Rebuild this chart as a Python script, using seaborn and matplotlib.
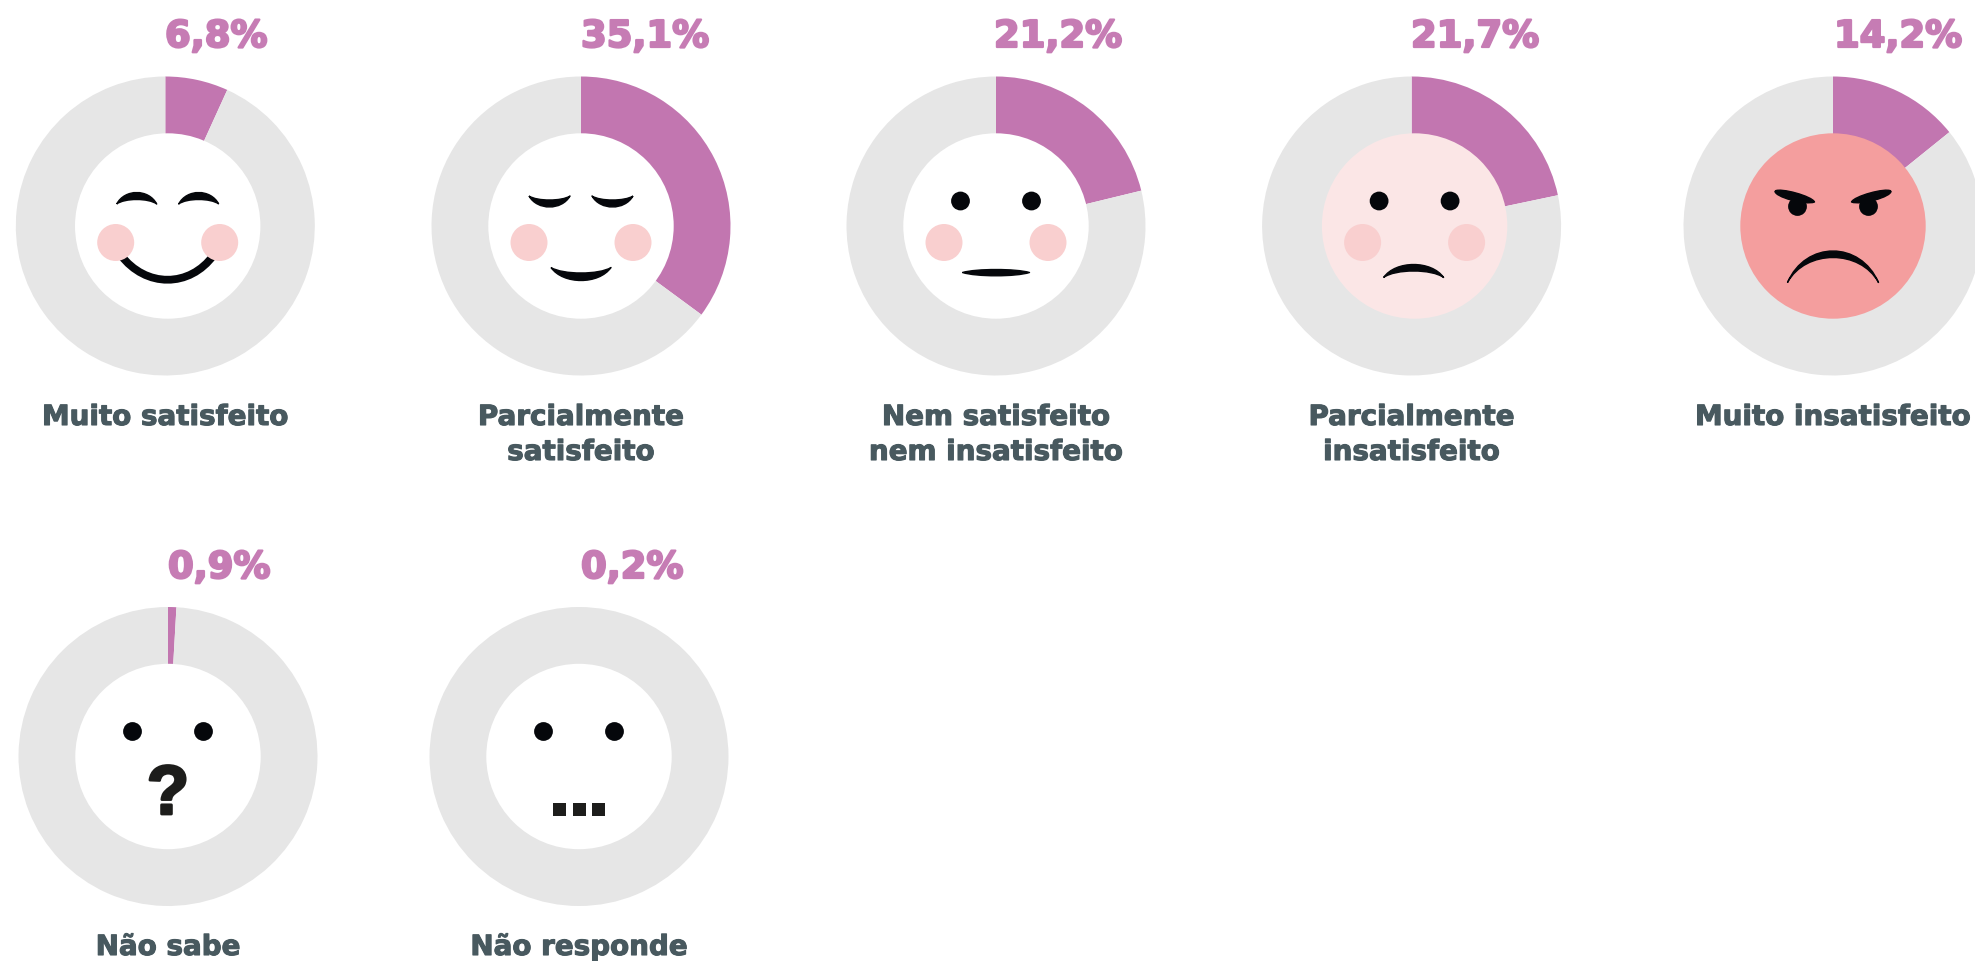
"""Satisfaction donuts with small faces in the middle."""
import matplotlib

matplotlib.use("Agg")
import matplotlib.patheffects as pe
import matplotlib.pyplot as plt
import seaborn as sns
from matplotlib.patches import Circle, PathPatch, Rectangle
from matplotlib.path import Path

W, H = 1975, 962
PINK, GREY, TEXT = "#C276B0", "#E6E6E6", "#48595F"
PCT_PINK = "#C67CB4"
CHEEK, INK, DARK = "#F9CFCF", "#05070B", "#1D1D1B"
FACE_LIGHT, FACE_ANGRY = "#FBE6E6", "#F49E9E"

# data
CATEGORIES = ["Muito satisfeito", "Parcialmente\nsatisfeito",
              "Nem satisfeito\nnem insatisfeito", "Parcialmente\ninsatisfeito",
              "Muito insatisfeito", "Não sabe", "Não responde"]
SHARES = [6.8, 35.1, 21.2, 21.7, 14.2, 0.9, 0.2]
PCT_LABELS = ["6,8%", "35,1%", "21,2%", "21,7%", "14,2%", "0,9%", "0,2%"]

# layout, in pixels from the top left of the picture
DONUT_X = [165.3, 581, 996, 1411.6, 1833, 168, 579]
DONUT_Y = [227, 227, 227, 227, 227, 757.5, 757.5]
FACE_DX = [2.4, 0, 0, 3, 0, 0, 0]
PCT_X = [165, 581, 994, 1411, 1834, 168, 581]
OUTER_R, INNER_R = 149.5, 92.7


def crescent(ax, cx, cy, left, right, mid_a, mid_b, color=INK, z=5, s=0.2):
    """Closed shape between two cubic curves sharing the tips (pixel offsets)."""
    def ctrls(mid, a, b):
        ex = (mid[0] - (a[0] + b[0]) / 2) / 0.75
        ey = (mid[1] - (a[1] + b[1]) / 2) / 0.75
        return ((a[0] + s * (b[0] - a[0]) + ex, a[1] + s * (b[1] - a[1]) + ey),
                (b[0] - s * (b[0] - a[0]) + ex, b[1] - s * (b[1] - a[1]) + ey))

    pts = [left, *ctrls(mid_a, left, right), right, *ctrls(mid_b, right, left), left]
    pts = [(cx + x, H - (cy + y)) for x, y in pts]
    codes = [Path.MOVETO] + [Path.CURVE4] * 6
    ax.add_patch(PathPatch(Path(pts, codes), fc=color, ec=color, lw=1.0,
                           joinstyle="round", zorder=z))


def dot(ax, cx, cy, dx, dy, r, color=INK, z=6):
    ax.add_patch(Circle((cx + dx, H - (cy + dy)), r, fc=color, ec="none", zorder=z))


def eyes(ax, cx, cy, dy=-25):
    dot(ax, cx, cy, -35.5, dy, 9.4)
    dot(ax, cx, cy, 35.5, dy, 9.4)


def cheeks(ax, cx, cy):
    dot(ax, cx, cy, -52, 16.5, 18.5, color=CHEEK, z=4)
    dot(ax, cx, cy, 52, 16.5, 18.5, color=CHEEK, z=4)


def face_very_happy(ax, cx, cy):
    cheeks(ax, cx, cy)
    for k in (-1, 1):
        crescent(ax, cx, cy, (k * 51, -22), (k * 11, -22), (k * 31, -33.5), (k * 31, -26.5))
    # mouth goes under the cheeks
    pts = [(cx + x, H - (cy + y)) for x, y in ((-47, 29), (-22, 62), (22, 62), (46, 29))]
    ax.add_patch(PathPatch(Path(pts, [Path.MOVETO, Path.CURVE4, Path.CURVE4, Path.CURVE4]),
                           fc="none", ec=INK, lw=5.6, zorder=3, capstyle="butt"))


def face_happy(ax, cx, cy):
    cheeks(ax, cx, cy)
    for k in (-1, 1):
        crescent(ax, cx, cy, (k * 52, -30), (k * 11, -30), (k * 31.5, -19), (k * 31.5, -26))
    crescent(ax, cx, cy, (-30, 41.5), (30, 41.5), (0, 54.5), (0, 47))


def face_neutral(ax, cx, cy):
    cheeks(ax, cx, cy)
    eyes(ax, cx, cy)
    crescent(ax, cx, cy, (-33.5, 46.5), (33.5, 46.5), (0, 43.5), (0, 49.8))


def face_unhappy(ax, cx, cy):
    cheeks(ax, cx, cy)
    eyes(ax, cx, cy)
    crescent(ax, cx, cy, (-31, 51.5), (29, 51.5), (-1, 38.5), (-1, 45))


def face_angry(ax, cx, cy):
    eyes(ax, cx, cy, dy=-19.5)
    for k in (-1, 1):
        crescent(ax, cx, cy, (k * 58, -35), (k * 18.5, -24), (k * 37, -33), (k * 42, -26), s=0.1)
    crescent(ax, cx, cy, (-45.5, 56.5), (45.5, 56.5), (0, 25), (0, 31.5))


def face_dont_know(ax, cx, cy):
    eyes(ax, cx, cy)
    ax.text(cx, H - 815, "?", ha="center", va="baseline", color=DARK, fontsize=50,
            fontweight="bold", family="Liberation Sans", zorder=6,
            path_effects=[pe.withStroke(linewidth=2.0, foreground=DARK)])


def face_no_answer(ax, cx, cy):
    eyes(ax, cx, cy)
    for x0 in (-26, -6.5, 13):
        ax.add_patch(Rectangle((cx + x0, H - (cy + 59.3)), 13, 12.7, fc=DARK, ec="none", zorder=6))


FACES = [face_very_happy, face_happy, face_neutral, face_unhappy,
         face_angry, face_dont_know, face_no_answer]
FACE_FILL = ["white", "white", "white", FACE_LIGHT, FACE_ANGRY, "white", "white"]

sns.set_theme(style="white")
plt.rcParams["font.family"] = ["DejaVu Sans"]

fig = plt.figure(figsize=(W / 100, H / 100), dpi=100, facecolor="white")
ax = fig.add_axes((0, 0, 1, 1))

for i, share in enumerate(SHARES):
    cx, cy = DONUT_X[i], DONUT_Y[i]
    # the 0,2% slice is not visible in the original
    sizes = [share, 100 - share] if share >= 0.5 else [100]
    colors = [PINK, GREY] if share >= 0.5 else [GREY]
    ax.pie(sizes, colors=colors, center=(cx, H - cy), radius=OUTER_R, startangle=90,
           counterclock=False, wedgeprops={"width": 62, "linewidth": 0})
    fx = cx + FACE_DX[i]
    ax.add_patch(Circle((fx, H - cy), INNER_R, fc=FACE_FILL[i], ec="none", zorder=2))
    FACES[i](ax, fx, cy)

    base = 48 if cy < 500 else 579
    ax.text(PCT_X[i], H - base, PCT_LABELS[i], ha="left", va="baseline", color=PCT_PINK,
            fontsize=26.6, fontweight="bold",
            path_effects=[pe.withStroke(linewidth=1.6, foreground=PCT_PINK)])
    label_base = 426 if cy < 500 else 956
    for j, line in enumerate(CATEGORIES[i].split("\n")):
        ax.text(cx, H - (label_base + 35 * j), line, ha="center", va="baseline", color=TEXT,
                fontsize=20, fontweight="bold",
                path_effects=[pe.withStroke(linewidth=0.8, foreground=TEXT)])

ax.set_xlim(0, W)
ax.set_ylim(0, H)
ax.set_aspect("equal")
ax.axis("off")
sns.despine(ax=ax, left=True, bottom=True)

fig.savefig("out.png", dpi=100)
